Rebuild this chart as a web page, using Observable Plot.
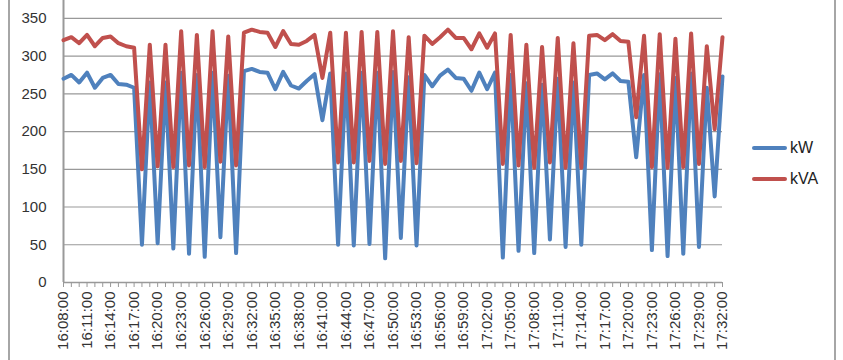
<!DOCTYPE html>
<html><head><meta charset="utf-8">
<script src="https://cdn.jsdelivr.net/npm/d3@7"></script>
<script src="https://cdn.jsdelivr.net/npm/@observablehq/plot@0.6"></script>
<style>
body{margin:0;background:#fff;}
#wrap{position:relative;width:843px;height:360px;overflow:hidden;font-family:"Liberation Sans",Arial,sans-serif;}
.border{position:absolute;top:0;height:360px;width:2px;background:#a6a6a6;}
.leg{position:absolute;left:752px;height:20px;display:flex;align-items:center;font-size:16px;color:#222;}
.leg span.sw{display:inline-block;width:35px;height:4px;border-radius:2px;margin-right:3px;}
</style></head><body><div id="wrap"></div>
<script>
const times = ["16:08:00","16:09:00","16:10:00","16:11:00","16:12:00","16:13:00","16:14:00","16:15:00","16:16:00","16:17:00",
"16:18:00","16:19:00","16:20:00","16:21:00","16:22:00","16:23:00","16:24:00","16:25:00","16:26:00","16:27:00",
"16:28:00","16:29:00","16:30:00","16:31:00","16:32:00","16:33:00","16:34:00","16:35:00","16:36:00","16:37:00",
"16:38:00","16:39:00","16:40:00","16:41:00","16:42:00","16:43:00","16:44:00","16:45:00","16:46:00","16:47:00",
"16:48:00","16:49:00","16:50:00","16:51:00","16:52:00","16:53:00","16:54:00","16:55:00","16:56:00","16:57:00",
"16:58:00","16:59:00","17:00:00","17:01:00","17:02:00","17:03:00","17:04:00","17:05:00","17:06:00","17:07:00",
"17:08:00","17:09:00","17:10:00","17:11:00","17:12:00","17:13:00","17:14:00","17:15:00","17:16:00","17:17:00",
"17:18:00","17:19:00","17:20:00","17:21:00","17:22:00","17:23:00","17:24:00","17:25:00","17:26:00","17:27:00",
"17:28:00","17:29:00","17:30:00","17:31:00","17:32:00"];
const tickLabels = ["16:08:00","16:11:00","16:14:00","16:17:00","16:20:00","16:23:00","16:26:00","16:29:00","16:32:00","16:35:00",
"16:38:00","16:41:00","16:44:00","16:47:00","16:50:00","16:53:00","16:56:00","16:59:00","17:02:00","17:05:00",
"17:08:00","17:11:00","17:14:00","17:17:00","17:20:00","17:23:00","17:26:00","17:29:00","17:32:00"];
const kW = [270,275,265,278,258,271,275,263,262,258,
50,265,52,265,45,278,38,275,34,278,
60,274,39,280,283,279,278,256,279,261,
257,267,276,215,277,50,277,49,278,51,
278,32,279,59,272,49,275,260,274,282,
271,270,254,278,256,278,33,275,42,264,
39,262,57,270,47,265,50,275,277,269,
277,267,266,166,275,43,276,35,271,38,
277,47,258,114,273];
const kVA = [321,325,317,328,313,324,326,317,313,311,
150,315,154,315,153,333,155,328,153,333,
160,326,155,331,335,332,331,312,333,316,
315,320,328,271,331,159,331,159,332,161,
332,157,333,161,325,158,327,316,325,335,
324,324,309,330,311,330,157,328,155,315,
152,312,159,324,152,317,152,327,328,321,
329,320,319,219,327,153,329,152,323,153,
330,157,313,203,325];
const yTicks = [0,50,100,150,200,250,300,350];
const seriesNames = ["kW","kVA"];
const seriesColors = ["#4F81BD","#C0504D"];

const data = times.map((t,i)=>({t, kW: kW[i], kVA: kVA[i]}));
const chart = Plot.plot({
  width: 843, height: 360,
  marginLeft: 63, marginRight: 121, marginTop: 0, marginBottom: 78,
  style: {fontFamily: "'Liberation Sans', Arial, sans-serif", fontSize: "15px", color: "#333", background: "transparent"},
  x: {type: "point", domain: times, padding: 0, label: null},
  y: {domain: [0, 373.6], label: null},
  marks: [
    Plot.gridY(yTicks, {stroke: "#999", strokeOpacity: 1, strokeWidth: 1.2}),
    Plot.ruleX([times[0]], {stroke: "#999", strokeWidth: 2}),
    Plot.ruleY([0], {stroke: "#999", strokeWidth: 1.5}),
    Plot.axisX(times, {tickSize: 5, tickFormat: () => "", stroke: "#999", label: null}),
    Plot.axisX(tickLabels, {tickSize: 0, tickRotate: -90, tickPadding: 9, label: null, fill: "#333"}),
    Plot.axisY(yTicks, {tickSize: 0, tickPadding: 17, label: null, fill: "#333"}),
    Plot.lineY(data, {x: "t", y: "kW", stroke: seriesColors[0], strokeWidth: 4, strokeLinejoin: "round"}),
    Plot.lineY(data, {x: "t", y: "kVA", stroke: seriesColors[1], strokeWidth: 4, strokeLinejoin: "round"})
  ]
});
const wrap = document.getElementById("wrap");
wrap.appendChild(chart);
chart.style.position = "absolute"; chart.style.left = "0"; chart.style.top = "0";
for (const x of [8, 834]) {
  const b = document.createElement("div"); b.className = "border"; b.style.left = x + "px"; wrap.appendChild(b);
}
seriesNames.forEach((n, i) => {
  const d = document.createElement("div"); d.className = "leg";
  d.style.top = (138 + i * 31) + "px";
  d.innerHTML = `<span class="sw" style="background:${seriesColors[i]}"></span>${n}`;
  wrap.appendChild(d);
});
</script></body></html>
